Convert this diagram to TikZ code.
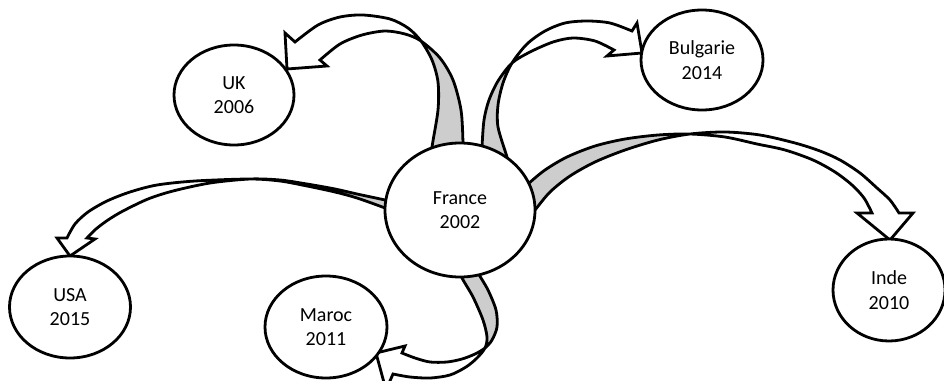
\documentclass[tikz,border=0pt]{standalone}
\usepackage{fontspec}
\setmainfont{Carlito}
\usetikzlibrary{shapes.geometric}
\definecolor{ribbonback}{RGB}{205,205,205}
\tikzset{
  country/.style={ellipse, draw=black, fill=white, line width=2.8pt,
    inner sep=0pt, align=center, font=\fontsize{20}{24.5}\selectfont},
  ribbonline/.style={draw=black, line width=2.8pt, line join=miter},
}
% #1 outer edge (arrow end -> tail), #2 inner edge reversed (tail -> arrow end),
% #3 arrowhead corners, #4/#5 the shaded back of the ribbon
\newcommand\ribbonarrow[5]{%
  \fill[ribbonback] plot[smooth] coordinates {#4} -- plot[smooth] coordinates {#5} -- cycle;
  \draw[ribbonline] plot[smooth] coordinates {#1} -- plot[smooth] coordinates {#2} -- #3 -- cycle;
}
\begin{document}
\begin{tikzpicture}[x=1pt,y=-1pt]
\useasboundingbox (0,0) rectangle (944,380);

% France -> UK
\ribbonarrow
  {(295,42) (318,25) (340,17) (363,15) (390,19) (408,28) (421,41) (432,60) (438,82) (438,110) (432,147) (430,168)}
  {(463,168) (463,143) (461,110) (453,80) (440,58) (421,41) (405,34) (385,31) (362,35) (340,44) (320,60)}
  {(327,66) -- (287,69) -- (285,33)}
  {(421,41) (432,60) (438,82) (438,110) (432,147) (430,168)}
  {(463,168) (463,143) (461,110) (453,80) (440,58) (421,41)}

% France -> Bulgarie
\ribbonarrow
  {(632,31) (610,23) (587,21) (565,23) (545,31) (527,44) (512,63) (503,83) (498,105) (498,127) (507,157) (512,175)}
  {(481,170) (482,147) (484,120) (489,100) (498,81) (512,63) (530,52) (553,42) (573,38) (595,41) (614,50)}
  {(607,56) -- (642,53) -- (637,23)}
  {(512,63) (503,83) (498,105) (498,127) (507,157) (512,175)}
  {(481,170) (482,147) (484,120) (489,100) (498,81) (512,63)}

% France -> Inde
\ribbonarrow
  {(899,213) (890,200) (877,188) (860,173) (840,160) (820,151) (795,143) (760,135) (725,132) (690,134) (658,140) (625,150) (595,162) (570,176) (550,192) (535,210) (525,222)}
  {(515,196) (528,184) (545,170) (567,157) (595,146) (625,139) (658,135) (690,134) (725,137) (757,144) (785,150) (813,160) (835,172) (852,185) (864,198) (872,213)}
  {(857,213) -- (890,240) -- (913,213)}
  {(690,134) (658,140) (625,150) (595,162) (570,176) (550,192) (535,210) (525,222)}
  {(515,196) (528,184) (545,170) (567,157) (595,146) (625,139) (658,135) (690,134)}

% France -> USA
\ribbonarrow
  {(67,238) (75,224) (88,212) (107,201) (130,192) (157,185) (195,181) (250,179) (280,181) (307,186) (335,192) (357,198) (385,208) (396,213)}
  {(396,203) (385,200) (357,194) (335,189) (307,184) (280,180) (250,179) (210,183) (173,191) (148,199) (123,211) (108,220) (96,229) (87,238)}
  {(95,239) -- (70,256) -- (57,238)}
  {(250,179) (280,181) (307,186) (335,192) (357,198) (385,208) (396,213)}
  {(396,203) (385,200) (357,194) (335,189) (307,184) (280,180) (250,179)}

% France -> Maroc
\ribbonarrow
  {(393,374) (410,377) (430,378) (450,375) (466,367) (477,358) (485,348) (487,337) (483,320) (473,297) (462,278) (455,262)}
  {(472,262) (478,273) (488,290) (496,310) (497,327) (492,340) (485,348) (475,354) (462,359) (447,362) (430,362) (415,358) (402,353)}
  {(405,346) -- (376,353) -- (386,390)}
  {(485,348) (487,337) (483,320) (473,297) (462,278) (455,262)}
  {(472,262) (478,273) (488,290) (496,310) (497,327) (492,340) (485,348)}

% countries
\node[country, minimum width=150pt, minimum height=134pt] (france) at (460,210) {France\\2002};
\node[country, minimum width=120pt, minimum height=100pt] (uk) at (234,95) {UK\\2006};
\node[country, minimum width=122pt, minimum height=100pt] (bulgarie) at (702,60) {Bulgarie\\2014};
\node[country, minimum width=112pt, minimum height=102pt] (inde) at (889,290) {Inde\\2010};
\node[country, minimum width=121pt, minimum height=102pt] (usa) at (70,307) {USA\\2015};
\node[country, minimum width=122pt, minimum height=102pt] (maroc) at (326,327) {Maroc\\2011};
\end{tikzpicture}
\end{document}
